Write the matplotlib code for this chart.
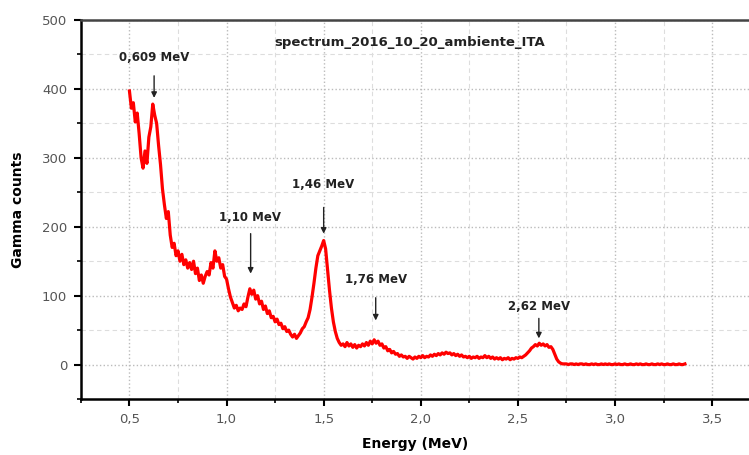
import numpy as np
import matplotlib.pyplot as plt
from matplotlib.ticker import MultipleLocator, FuncFormatter

# energy calibration: first and last channel, 0.01 MeV per channel
e_start = 0.50
e_stop = 3.36

counts = [
    397, 372, 380, 352, 365, 335, 300, 285, 310, 292,   # 0.50
    330, 345, 378, 362, 350, 318, 290, 255, 232, 212,   # 0.60
    222, 188, 170, 176, 158, 165, 150, 160, 145, 152,   # 0.70
    140, 148, 138, 150, 132, 140, 122, 130, 118, 128,   # 0.80
    135, 130, 148, 140, 165, 150, 155, 140, 145, 128,   # 0.90
    124, 110, 98, 90, 82, 86, 78, 82, 80, 88,           # 1.00
    84, 98, 110, 102, 108, 95, 100, 88, 92, 80,         # 1.10
    85, 74, 78, 68, 70, 62, 66, 58, 60, 52,             # 1.20
    55, 48, 50, 44, 40, 44, 38, 42, 46, 52,             # 1.30
    55, 62, 68, 80, 98, 118, 140, 158, 165, 172,        # 1.40
    180, 168, 138, 108, 82, 62, 48, 38, 32, 28,         # 1.50
    30, 26, 32, 27, 30, 25, 29, 24, 28, 26,             # 1.60
    30, 27, 32, 28, 34, 30, 36, 31, 34, 28,             # 1.70
    30, 24, 26, 20, 22, 17, 19, 15, 16, 12,             # 1.80
    14, 11, 12, 9, 12, 10, 8, 11, 9, 12,                # 1.90
    10, 13, 10, 12, 11, 14, 12, 15, 13, 16,             # 2.00
    14, 17, 15, 18, 16, 17, 14, 16, 13, 15,             # 2.10
    12, 14, 11, 12, 10, 12, 9, 11, 10, 12,              # 2.20
    9, 11, 10, 13, 10, 12, 9, 11, 8, 10,                # 2.30
    8, 10, 7, 9, 8, 10, 7, 9, 8, 10,                    # 2.40
    9, 11, 10, 12, 14, 17, 20, 24, 26, 29,              # 2.50
    27, 31, 28, 30, 27, 29, 25, 26, 22, 15,             # 2.60
    8, 4, 2, 1, 1, 1, 0, 1, 1, 0,                       # 2.70
    1, 0, 1, 1, 0, 1, 0, 0, 1, 0,                       # 2.80
    1, 0, 0, 1, 0, 1, 0, 1, 0, 0,                       # 2.90
    1, 0, 1, 0, 0, 1, 0, 0, 1, 0,                       # 3.00
    0, 1, 0, 1, 0, 0, 1, 0, 0, 1,                       # 3.10
    0, 0, 1, 0, 1, 0, 0, 1, 0, 0,                       # 3.20
    1, 0, 0, 1, 0, 0, 1,                                # 3.30
]
energy = np.linspace(e_start, e_stop, len(counts))

peak_labels = ['0,609 MeV', '1,10 MeV', '1,46 MeV', '1,76 MeV', '2,62 MeV']
peak_energy = [0.627, 1.124, 1.50, 1.768, 2.608]

# where each label and arrow sits (data coords)
label_xy = [(0.629, 445), (1.119, 213), (1.495, 261), (1.768, 123), (2.608, 84)]
arrow_top = [419, 190, 228, 97, 67]
arrow_tip = [387, 132, 190, 64, 38]

fig = plt.figure(figsize=(7.49, 4.55), dpi=100)
ax = fig.add_axes([0.108, 0.123, 0.892, 0.833])

ax.plot(energy, counts, color='#ff0000', lw=2.3)

ax.set_xlim(0.25, 3.69)
ax.set_ylim(-50, 500)
ax.xaxis.set_major_locator(MultipleLocator(0.5))
ax.xaxis.set_minor_locator(MultipleLocator(0.25))
ax.yaxis.set_major_locator(MultipleLocator(100))
ax.yaxis.set_minor_locator(MultipleLocator(50))
ax.xaxis.set_major_formatter(FuncFormatter(lambda v, p: f'{v:.1f}'.replace('.', ',')))

ax.grid(which='major', color='#bbbbbb', linestyle=':', lw=1.0)
ax.grid(which='minor', color='#dddddd', linestyle=(0, (4, 3)), lw=0.8)
ax.set_axisbelow(True)

ax.tick_params(which='major', direction='out', length=5, width=1.5,
               labelsize=9.5, labelcolor='#555555', pad=5)
ax.tick_params(which='minor', direction='out', length=3, width=1.2)

for s in ['left', 'bottom', 'top']:
    ax.spines[s].set_linewidth(1.8)
ax.spines['top'].set_color('#444444')
ax.spines['right'].set_visible(False)

ax.set_xlabel('Energy (MeV)', fontsize=10, fontweight='bold', labelpad=8)
ax.set_ylabel('Gamma counts', fontsize=10, fontweight='bold', labelpad=12)

ax.text(1.943, 467, 'spectrum_2016_10_20_ambiente_ITA', ha='center', va='center',
        fontsize=9.5, fontweight='bold', color='#222222')

for lab, pe, (tx, ty), a0, a1 in zip(peak_labels, peak_energy, label_xy, arrow_top, arrow_tip):
    ax.text(tx, ty, lab, ha='center', va='center', fontsize=8.5,
            fontweight='bold', color='#222222')
    ax.annotate('', xy=(pe, a1), xytext=(pe, a0),
                arrowprops=dict(arrowstyle='-|>', color='#222222', lw=1.0,
                                mutation_scale=8, shrinkA=0, shrinkB=0))

fig.savefig('out.png', dpi=100)
